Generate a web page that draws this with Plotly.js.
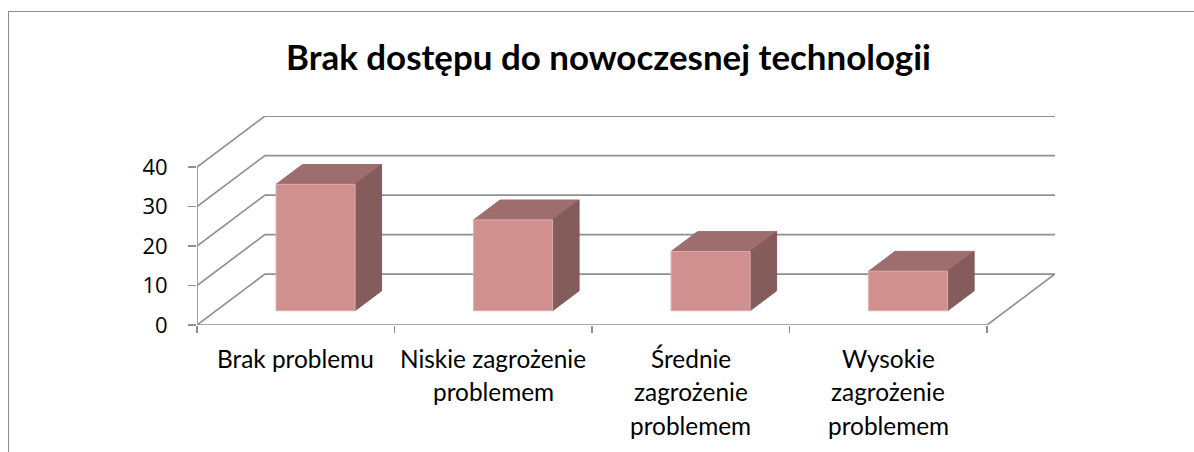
<!DOCTYPE html>
<html>
<head>
<meta charset="utf-8">
<script src="https://cdn.plot.ly/plotly-3.0.1.min.js"></script>
<style>
html,body{margin:0;padding:0;background:#fff;overflow:hidden}
#frame{position:absolute;left:8px;top:11px;width:1186px;height:441px;border-left:1.5px solid #8c8c8c;border-top:1.5px solid #8c8c8c;box-sizing:border-box}
#chart{position:absolute;left:0;top:0;width:1194px;height:452px}
</style>
</head>
<body>
<div id="frame"></div>
<div id="chart"></div>
<script>
const chartTitle = 'Brak dostępu do nowoczesnej technologii';
const categoryLines = [
  ['Brak problemu'],
  ['Niskie zagrożenie', 'problemem'],
  ['Średnie', 'zagrożenie', 'problemem'],
  ['Wysokie', 'zagrożenie', 'problemem']
];
const values = [32, 23, 15, 10];
const yTicks = [0, 10, 20, 30, 40];

// oblique projection of the 3D box onto the 2D axes
const depthX = 0.344, depthY = 12.9;
const pX = (c, d) => c + d * depthX;
const pY = (v, d) => v + d * depthY;
const nCat = values.length;
const barFrom = 0.304, barTo = 0.704, d0 = 0.28, d1 = 0.67;
const gridColor = '#909090', FONT = 'Lato, sans-serif';

const traces = [];
function line(xs, ys) {
  traces.push({type:'scatter', mode:'lines', x:xs, y:ys, cliponaxis:false, hoverinfo:'skip',
    showlegend:false, line:{color:gridColor, width:1.7}});
}
function poly(xs, ys, fill, edge) {
  traces.push({type:'scatter', mode:'lines', x:xs.concat(xs[0]), y:ys.concat(ys[0]), fill:'toself',
    fillcolor:fill, cliponaxis:false, hoverinfo:'skip', showlegend:false,
    line:{color:edge, width:1}});
}
yTicks.forEach(v => {
  if (v === 0) return;
  line([pX(0,0), pX(0,1), pX(nCat,1)], [pY(v,0), pY(v,1), pY(v,1)]);
});
line([pX(0,1), pX(nCat,1), pX(nCat,0), pX(0,0), pX(0,1)], [pY(0,1), pY(0,1), pY(0,0), pY(0,0), pY(0,1)]);
line([0, 0], [0, yTicks[yTicks.length-1]]);

values.forEach((v, i) => {
  const a = i + barFrom, b = i + barTo;
  poly([pX(a,d0), pX(b,d0), pX(b,d1), pX(a,d1)], [pY(v,d0), pY(v,d0), pY(v,d1), pY(v,d1)], '#9e6d6d', '#9e6d6d');
  poly([pX(b,d0), pX(b,d1), pX(b,d1), pX(b,d0)], [pY(0,d0), pY(0,d1), pY(v,d1), pY(v,d0)], '#855c5c', '#855c5c');
  poly([pX(a,d0), pX(b,d0), pX(b,d0), pX(a,d0)], [pY(0,d0), pY(0,d0), pY(v,d0), pY(v,d0)], '#d09090', '#dcacac');
});

const annotations = [];
categoryLines.forEach((lines, i) => {
  lines.forEach((t, j) => {
    annotations.push({text:t, x:i + 0.5, xref:'x', y:0, yref:'y', showarrow:false,
      xanchor:'center', yanchor:'middle', yshift:-(33 + j * 33.5),
      font:{family:FONT, size:24.4, color:'#000'}});
  });
});

const layout = {
  width:1194, height:452,
  margin:{l:197, r:139, t:116, b:127, pad:0},
  paper_bgcolor:'rgba(0,0,0,0)', plot_bgcolor:'rgba(0,0,0,0)',
  showlegend:false,
  title:{text:chartTitle, x:608.5/1194, xanchor:'center', y:1-58/452, yanchor:'middle',
    font:{family:FONT, size:34.9, color:'#000', weight:700}},
  xaxis:{range:[0, nCat + depthX], tickmode:'array', tickvals:[0,1,2,3,4], ticktext:['','','','',''],
    ticks:'outside', ticklen:7, tickwidth:1.5, tickcolor:gridColor, showgrid:false, zeroline:false, showline:false, fixedrange:true},
  yaxis:{range:[0, 209/3.95], tickmode:'array', tickvals:yTicks, ticks:'outside', ticklen:8, tickwidth:1.5,
    tickcolor:gridColor, showgrid:false, zeroline:false, showline:false, fixedrange:true, ticklabelstandoff:16,
    tickfont:{family:'"Open Sans", sans-serif', size:22, color:'#000'}},
  annotations:annotations
};
Plotly.newPlot('chart', traces, layout, {staticPlot:true, displayModeBar:false});
</script>
</body>
</html>
